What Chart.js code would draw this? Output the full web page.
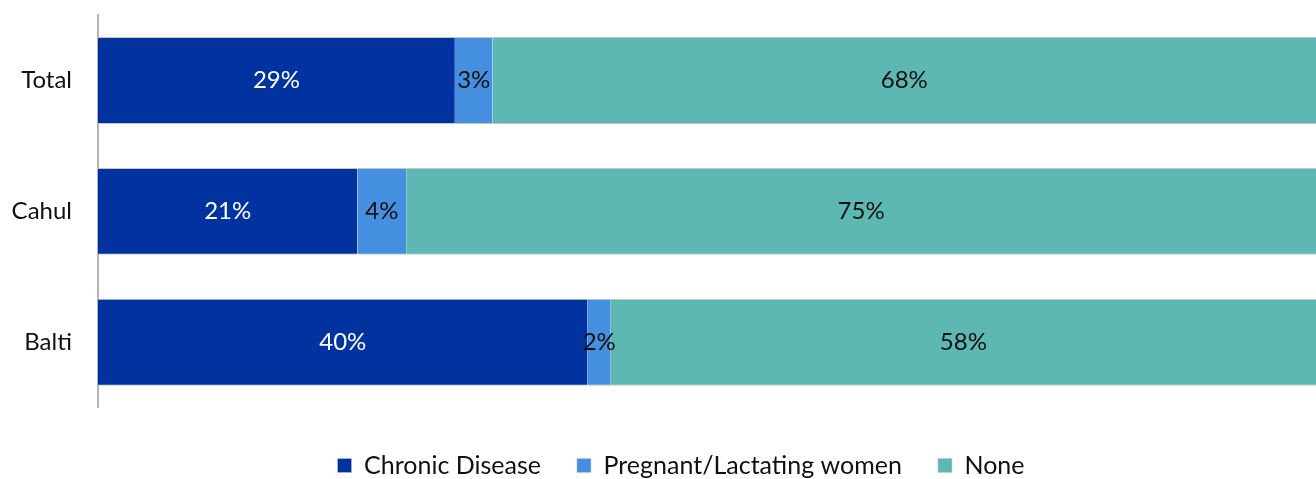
<!DOCTYPE html>
<html>
<head>
<meta charset="utf-8">
<script src="https://cdn.jsdelivr.net/npm/chart.js"></script>
<style>
  html, body { margin: 0; padding: 0; background: #fff; }
  #wrap { width: 1316px; height: 479px; }
</style>
</head>
<body>
<div id="wrap"><canvas id="chart"></canvas></div>
<script>
// data
const regions = ['Total', 'Cahul', 'Balti'];
const chronicDisease = [29.3, 21.3, 40.2];
const pregnantLactating = [3.1, 4.0, 1.9];
const noneValues = [67.6, 74.7, 57.9];
const seriesNames = ['Chronic Disease', 'Pregnant/Lactating women', 'None'];
const seriesColors = ['#0033a0', '#448fdf', '#5db8b3'];
const labelColors = ['#ffffff', '#111111', '#111111'];

const FONT = 'Lato, "Open Sans", sans-serif';

// draws the % labels in the middle of each segment
const segmentLabels = {
  id: 'segmentLabels',
  afterDatasetsDraw(chart) {
    const ctx = chart.ctx;
    ctx.save();
    ctx.font = '24px ' + FONT;
    ctx.textAlign = 'center';
    ctx.textBaseline = 'middle';
    chart.data.datasets.forEach((ds, i) => {
      chart.getDatasetMeta(i).data.forEach((bar, j) => {
        const mid = (bar.x + bar.base) / 2;
        ctx.fillStyle = labelColors[i];
        ctx.fillText(Math.round(ds.data[j]) + '%', mid, bar.y);
      });
    });
    ctx.restore();
  }
};

// legend in the original sits a bit right of the canvas centre
const legendShift = {
  id: 'legendShift',
  afterLayout(chart) {
    chart.legend.left += 23;
    chart.legend.right += 23;
  }
};

const makeSet = (idx, values) => ({
  label: seriesNames[idx],
  data: values,
  backgroundColor: seriesColors[idx],
  borderColor: '#c4c4c4',
  borderWidth: { top: 1, bottom: 1, left: 0, right: 0 },
  borderSkipped: false,
  barPercentage: 1,
  categoryPercentage: 0.664
});

new Chart(document.getElementById('chart'), {
  type: 'bar',
  data: {
    labels: regions,
    datasets: [
      makeSet(0, chronicDisease),
      makeSet(1, pregnantLactating),
      makeSet(2, noneValues)
    ]
  },
  options: {
    indexAxis: 'y',
    responsive: true,
    maintainAspectRatio: false,
    animation: false,
    layout: { padding: { top: 15, right: 0, left: 0, bottom: -9 } },
    scales: {
      x: {
        stacked: true,
        min: 0,
        max: 100,
        ticks: { display: false },
        grid: { display: false },
        border: { display: false },
        // empty title, just a spacer above the legend
        title: { display: true, text: '', font: { size: 1 }, padding: 0 }
      },
      y: {
        stacked: true,
        grid: { display: false, drawTicks: false },
        border: { display: true, color: '#b4b4b4', width: 2 },
        ticks: {
          color: '#111',
          padding: 26,
          font: { family: FONT, size: 24 }
        },
        afterFit(scale) {
          scale.width = 98;
          scale.paddingTop = 0;
          scale.paddingBottom = 0;
        }
      }
    },
    plugins: {
      legend: {
        position: 'bottom',
        labels: {
          color: '#111',
          boxWidth: 14,
          boxHeight: 14,
          padding: 36,
          font: { family: FONT, size: 25 }
        }
      },
      tooltip: { enabled: false }
    }
  },
  plugins: [segmentLabels, legendShift]
});
</script>
</body>
</html>
